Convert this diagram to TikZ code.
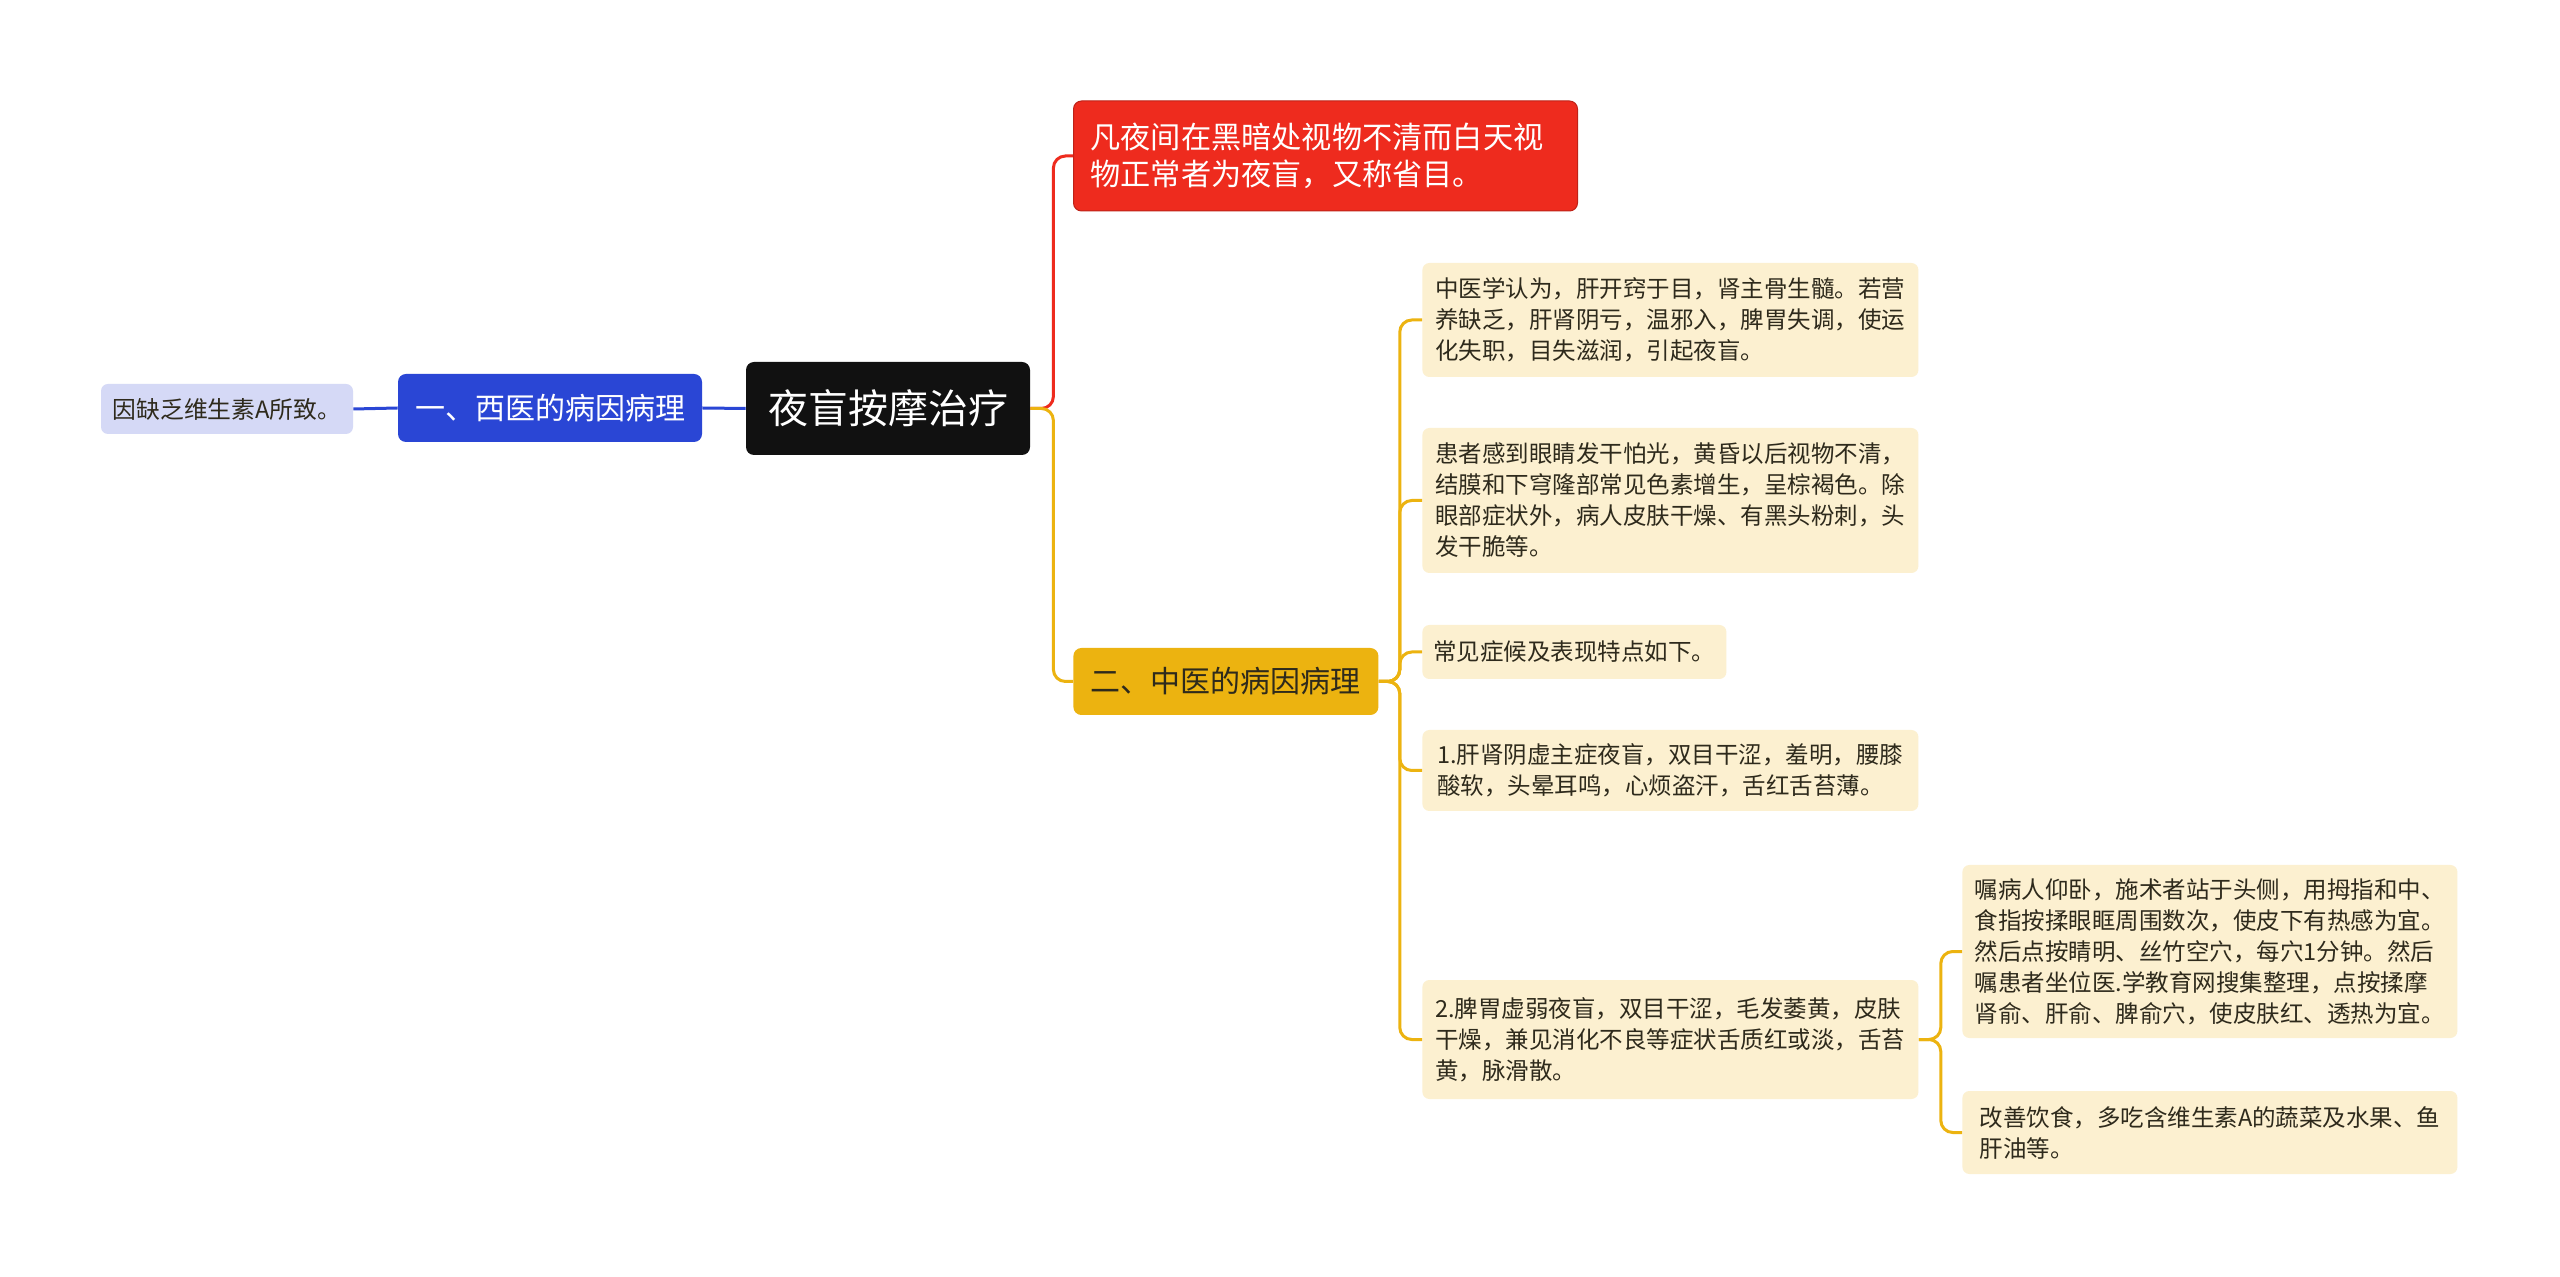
\documentclass[tikz,border=0pt]{standalone}
\usepackage{fontspec}
\setmainfont{Noto Sans CJK SC}
\definecolor{leafc}{HTML}{FCF0D0}
\definecolor{leaftext}{HTML}{2E2A1C}
\definecolor{bluec}{HTML}{2A46D5}
\definecolor{lavc}{HTML}{D5D9F6}
\definecolor{redc}{HTML}{EE2B1E}
\definecolor{yelc}{HTML}{ECB310}
\definecolor{rootc}{HTML}{111111}
\begin{document}
\begin{tikzpicture}[x=0.5pt,y=-0.5pt,
  box/.style={rounded corners=4pt, inner sep=0pt, align=center},
  leaf/.style={box, fill=leafc, text=leaftext, align=left, anchor=west,
    font=\fontsize{11.75pt}{15.5pt}\selectfont, rounded corners=3.5pt},
  conn/.style={line width=1.5pt, rounded corners=6pt},
]
\useasboundingbox[fill=white] (0,0) rectangle (2560,1277);

% main nodes
\node[box, fill=rootc, text=white, minimum width=142pt, minimum height=46.5pt,
  font=\fontsize{20pt}{24pt}\selectfont] (root) at (888,408.5) {夜盲按摩治疗};
\node[box, fill=bluec, text=white, minimum width=152pt, minimum height=34pt,
  font=\fontsize{15pt}{18pt}\selectfont] (west) at (550,408) {一、西医的病因病理};
\node[box, fill=lavc, text=leaftext, minimum width=126pt, minimum height=25pt,
  font=\fontsize{11.9pt}{15pt}\selectfont, rounded corners=3.5pt] (far) at (227,409) {因缺乏维生素A所致。};
\node[box, fill=redc, draw=redc!80!black, line width=0.5pt, text=white, align=left,
  text width=235pt, inner xsep=8.5pt, minimum height=55pt, anchor=west,
  font=\fontsize{15.1pt}{18.75pt}\selectfont] (red) at (1073,156)
  {凡夜间在黑暗处视物不清而白天视\\物正常者为夜盲，又称省目。};
\node[box, fill=yelc, text=leaftext, minimum width=152.5pt, minimum height=33.5pt, anchor=west,
  font=\fontsize{15pt}{18pt}\selectfont] (yel) at (1073,681.5) {二、中医的病因病理};

% leaves
\node[leaf, minimum width=248pt, minimum height=57pt] (L1) at (1422,320)
  {中医学认为，肝开窍于目，肾主骨生髓。若营\\养缺乏，肝肾阴亏，温邪入，脾胃失调，使运\\化失职，目失滋润，引起夜盲。};
\node[leaf, minimum width=248pt, minimum height=72.5pt] (L2) at (1422,500.5)
  {患者感到眼睛发干怕光，黄昏以后视物不清，\\结膜和下穹隆部常见色素增生，呈棕褐色。除\\眼部症状外，病人皮肤干燥、有黑头粉刺，头\\发干脆等。};
\node[leaf, minimum width=152pt, minimum height=27pt] (L3) at (1422,652)
  {常见症候及表现特点如下。};
\node[leaf, minimum width=248pt, minimum height=40.5pt] (L4) at (1422,770.5)
  {1.肝肾阴虚主症夜盲，双目干涩，羞明，腰膝\\酸软，头晕耳鸣，心烦盗汗，舌红舌苔薄。};
\node[leaf, minimum width=248pt, minimum height=59.5pt] (L5) at (1422,1039.5)
  {2.脾胃虚弱夜盲，双目干涩，毛发萎黄，皮肤\\干燥，兼见消化不良等症状舌质红或淡，舌苔\\黄，脉滑散。};
\node[leaf, minimum width=247.5pt, minimum height=86.5pt] (S1) at (1962,951.5)
  {嘱病人仰卧，施术者站于头侧，用拇指和中、\\食指按揉眼眶周围数次，使皮下有热感为宜。\\然后点按睛明、丝竹空穴，每穴1分钟。然后\\嘱患者坐位医.学教育网搜集整理，点按揉摩\\肾俞、肝俞、脾俞穴，使皮肤红、透热为宜。};
\node[leaf, minimum width=247.5pt, minimum height=41.5pt] (S2) at (1962,1132.5)
  {改善饮食，多吃含维生素A的蔬菜及水果、鱼\\肝油等。};

% connectors
\draw[conn, bluec] (root.west) -- (west.east);
\draw[conn, bluec] (west.west) -- (far.east);
\draw[conn, redc] (root.east) -- ++(11.5pt,0) |- (red.west);
\draw[conn, yelc] (root.east) -- ++(11.5pt,0) |- (yel.west);
\foreach \t in {L1,L2,L3,L4,L5}
  \draw[conn, yelc] (yel.east) -- ++(10.5pt,0) |- (\t.west);
\foreach \t in {S1,S2}
  \draw[conn, yelc] (L5.east) -- ++(11pt,0) |- (\t.west);
\end{tikzpicture}
\end{document}
